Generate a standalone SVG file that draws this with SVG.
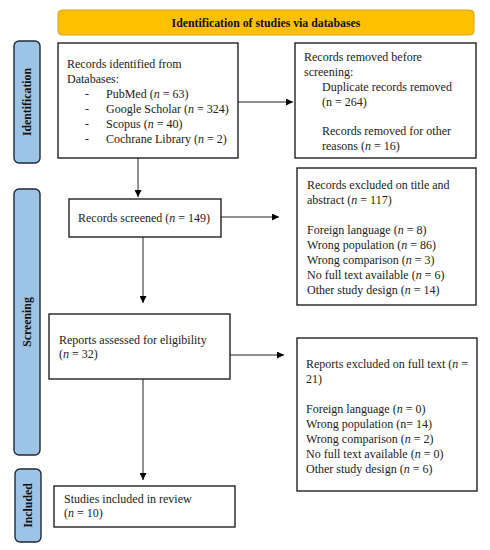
<svg xmlns="http://www.w3.org/2000/svg" width="490" height="550" viewBox="0 0 490 550">
<defs>
<marker id="ah" viewBox="0 0 10 10" refX="10" refY="5" markerWidth="7" markerHeight="7" markerUnits="userSpaceOnUse" orient="auto"><path d="M0,0 L10,5 L0,10 z" fill="#000"/></marker>
<style>
.box{fill:#fff;stroke:#222;stroke-width:1.4}
.side{fill:#9DC3E6;stroke:#1f2a38;stroke-width:1.4}
.t{font-family:"Liberation Serif","DejaVu Serif",serif;font-size:12px;fill:#222}
.b{font-family:"Liberation Serif","DejaVu Serif",serif;font-size:11.8px;font-weight:bold;fill:#111}
.c{fill:none;stroke:#222;stroke-width:1}
</style>
</defs>
<rect width="490" height="550" fill="#fff"/>
<g id="header"><rect x="58" y="10" width="416" height="25" rx="4" fill="#FFC000" stroke="#D9A21B" stroke-width="1"/><text class="b" x="266" y="26.5" text-anchor="middle">Identification of studies via databases</text></g>
<g id="side-identification"><rect class="side" x="14" y="41" width="26" height="122" rx="5"/><text class="b" transform="translate(31,102) rotate(-90)" text-anchor="middle">Identification</text></g>
<g id="side-screening"><rect class="side" x="14" y="189" width="26" height="266" rx="5"/><text class="b" transform="translate(31,322) rotate(-90)" text-anchor="middle">Screening</text></g>
<g id="side-included"><rect class="side" x="15" y="469" width="26" height="73" rx="5"/><text class="b" transform="translate(32,505.5) rotate(-90)" text-anchor="middle">Included</text></g>
<g id="identified"><rect class="box" x="58" y="43" width="180" height="115"/>
<text class="t" x="67" y="68">Records identified from</text>
<text class="t" x="67" y="83">Databases:</text>
<text class="t" x="85" y="98">-</text><text class="t" x="106" y="98">PubMed (<tspan font-style="italic">n</tspan> = 63)</text>
<text class="t" x="85" y="113">-</text><text class="t" x="106" y="113">Google Scholar (<tspan font-style="italic">n</tspan> = 324)</text>
<text class="t" x="85" y="128">-</text><text class="t" x="106" y="128">Scopus (<tspan font-style="italic">n</tspan> = 40)</text>
<text class="t" x="85" y="143">-</text><text class="t" x="106" y="143">Cochrane Library (<tspan font-style="italic">n</tspan> = 2)</text>
</g>
<g id="removed"><rect class="box" x="295" y="43" width="181" height="115"/>
<text class="t" x="304" y="61">Records removed before</text>
<text class="t" x="304" y="76">screening:</text>
<text class="t" x="322" y="91">Duplicate records removed</text>
<text class="t" x="322" y="106">(n = 264)</text>
<text class="t" x="322" y="135">Records removed for other</text>
<text class="t" x="322" y="150">reasons (<tspan font-style="italic">n</tspan> = 16)</text>
</g>
<g id="screened"><rect class="box" x="69" y="199" width="152" height="38"/>
<text class="t" x="78" y="222">Records screened (<tspan font-style="italic">n</tspan> = 149)</text>
</g>
<g id="excluded-title"><rect class="box" x="297" y="168" width="179" height="137"/>
<text class="t" x="307" y="189">Records excluded on title and</text>
<text class="t" x="307" y="204">abstract (<tspan font-style="italic">n</tspan> = 117)</text>
<text class="t" x="307" y="234">Foreign language (<tspan font-style="italic">n</tspan> = 8)</text>
<text class="t" x="307" y="249">Wrong population (<tspan font-style="italic">n</tspan> = 86)</text>
<text class="t" x="307" y="264">Wrong comparison (<tspan font-style="italic">n</tspan> = 3)</text>
<text class="t" x="307" y="279">No full text available (<tspan font-style="italic">n</tspan> = 6)</text>
<text class="t" x="307" y="294">Other study design (<tspan font-style="italic">n</tspan> = 14)</text>
</g>
<g id="assessed"><rect class="box" x="49" y="314" width="181" height="65"/>
<text class="t" x="59" y="344">Reports assessed for eligibility</text>
<text class="t" x="59" y="358">(<tspan font-style="italic">n</tspan> = 32)</text>
</g>
<g id="excluded-full"><rect class="box" x="297" y="338" width="180" height="153"/>
<text class="t" x="306" y="368">Reports excluded on full text (<tspan font-style="italic">n</tspan> =</text>
<text class="t" x="306" y="383">21)</text>
<text class="t" x="306" y="413">Foreign language (<tspan font-style="italic">n</tspan> = 0)</text>
<text class="t" x="306" y="428">Wrong population (n= 14)</text>
<text class="t" x="306" y="443">Wrong comparison (<tspan font-style="italic">n</tspan> = 2)</text>
<text class="t" x="306" y="458">No full text available (<tspan font-style="italic">n</tspan> = 0)</text>
<text class="t" x="306" y="473">Other study design (<tspan font-style="italic">n</tspan> = 6)</text>
</g>
<g id="included"><rect class="box" x="54" y="486" width="181" height="41"/>
<text class="t" x="64" y="503">Studies included in review</text>
<text class="t" x="64" y="517">(<tspan font-style="italic">n</tspan> = 10)</text>
</g>
<g id="connectors">
<line class="c" x1="238" y1="102" x2="293" y2="102" marker-end="url(#ah)"/>
<line class="c" x1="138" y1="158" x2="138" y2="197" marker-end="url(#ah)"/>
<line class="c" x1="221" y1="217" x2="279" y2="217" marker-end="url(#ah)"/>
<line class="c" x1="143" y1="237" x2="143" y2="303" marker-end="url(#ah)"/>
<line class="c" x1="230" y1="355" x2="284" y2="355" marker-end="url(#ah)"/>
<line class="c" x1="143" y1="379" x2="143" y2="480" marker-end="url(#ah)"/>
</g>
</svg>
